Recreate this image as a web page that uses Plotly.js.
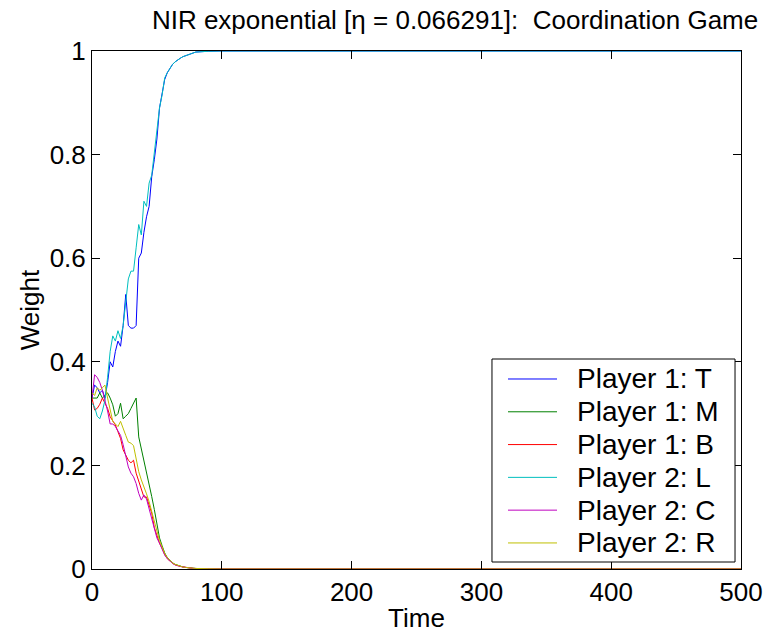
<!DOCTYPE html>
<html>
<head>
<meta charset="utf-8">
<script src="https://cdn.plot.ly/plotly-3.0.1.min.js"></script>
<style>html,body{margin:0;padding:0;background:#fff;}#chart{width:770px;height:637px;}</style>
</head>
<body>
<div id="chart"></div>
<script>
var time = [0,2,4,6,8,10,12,14,16,18,20,22,24,26,28,30,32,34,36,38,40,42,44,46,48,50,52,54,56,58,60,62,64,66,68,70,72,74,76,78,80,90,100,200,300,400,500];

var p1T = [0.33,0.355,0.35,0.34,0.345,0.33,0.36,0.40,0.39,0.42,0.44,0.43,0.47,0.53,0.47,0.465,0.465,0.47,0.60,0.61,0.65,0.68,0.70,0.757,0.79,0.83,0.89,0.915,0.945,0.958,0.967,0.974,0.979,0.983,0.986,0.989,0.991,0.993,0.995,0.997,0.998,0.9995,1,1,1,1,1];
var p1M = [0.33,0.33,0.33,0.34,0.33,0.335,0.34,0.33,0.317,0.295,0.30,0.32,0.29,0.295,0.30,0.31,0.32,0.33,0.255,0.233,0.21,0.185,0.165,0.14,0.115,0.089,0.06,0.045,0.031,0.022,0.016,0.012,0.009,0.007,0.005,0.004,0.003,0.0025,0.002,0.0015,0.001,0.0005,0,0,0,0,0];
var p1B = [0.33,0.307,0.31,0.318,0.33,0.32,0.31,0.294,0.285,0.278,0.265,0.252,0.23,0.22,0.21,0.205,0.21,0.185,0.168,0.152,0.139,0.139,0.125,0.108,0.08,0.065,0.05,0.04,0.028,0.02,0.015,0.011,0.008,0.006,0.005,0.004,0.003,0.0022,0.0016,0.0012,0.001,0.0005,0,0,0,0,0];
var p2L = [0.32,0.313,0.295,0.29,0.305,0.326,0.37,0.42,0.45,0.44,0.46,0.445,0.47,0.52,0.56,0.575,0.575,0.62,0.665,0.645,0.71,0.70,0.745,0.76,0.80,0.847,0.89,0.915,0.948,0.958,0.967,0.974,0.979,0.983,0.986,0.989,0.991,0.993,0.995,0.997,0.998,0.9995,1,1,1,1,1];
var p2C = [0.33,0.375,0.37,0.36,0.345,0.326,0.305,0.28,0.28,0.275,0.265,0.258,0.24,0.218,0.197,0.185,0.178,0.165,0.146,0.133,0.143,0.135,0.115,0.095,0.075,0.06,0.05,0.038,0.027,0.02,0.015,0.011,0.008,0.006,0.005,0.004,0.003,0.0022,0.0016,0.0012,0.001,0.0005,0,0,0,0,0];
var p2R = [0.34,0.335,0.35,0.345,0.35,0.355,0.33,0.305,0.285,0.28,0.275,0.285,0.27,0.258,0.245,0.243,0.238,0.215,0.188,0.172,0.16,0.145,0.13,0.11,0.09,0.07,0.055,0.043,0.03,0.022,0.016,0.012,0.009,0.007,0.005,0.004,0.003,0.0025,0.002,0.0015,0.001,0.0005,0,0,0,0,0];

var seriesNames = ["Player 1: T","Player 1: M","Player 1: B","Player 2: L","Player 2: C","Player 2: R"];
var seriesData = [p1T,p1M,p1B,p2L,p2C,p2R];
var seriesColors = ["#0000ff","#008000","#ff0000","#00bfbf","#bf00bf","#bfbf00"];

var xTicks = [0,100,200,300,400,500];
var yTicks = [0,0.2,0.4,0.6,0.8,1];
var yTickText = ["0","0.2","0.4","0.6","0.8","1"];

var traces = seriesData.map(function(d,i){
  return {x: time, y: d, type:'scatter', mode:'lines', name: seriesNames[i],
          line:{color: seriesColors[i], width:1}};
});

var fontFam = 'Liberation Sans, Arial, sans-serif';
var axisCommon = {
  showgrid:false, zeroline:false, showline:true, linecolor:'#000', linewidth:1,
  mirror:'ticks', ticks:'inside', ticklen:8, tickcolor:'#000', tickwidth:1,
  tickfont:{family:fontFam, size:26, color:'#000'}
};

// MATLAB-style legend box (drawn in paper coordinates)
var LEG = {x0:0.6163, x1:0.9908, y0:0.0135, y1:0.4054, lineX0:0.641, lineX1:0.7165, textX:0.7442, rowTop:0.3668, rowStep:0.0633};
var shapes = [{type:'rect', xref:'paper', yref:'paper', x0:LEG.x0, x1:LEG.x1, y0:LEG.y0, y1:LEG.y1,
               line:{color:'#000', width:1}, fillcolor:'#fff', layer:'above'}];
var annotations = [];
seriesNames.forEach(function(nm,i){
  var yy = LEG.rowTop - i*LEG.rowStep;
  shapes.push({type:'line', xref:'paper', yref:'paper', x0:LEG.lineX0, x1:LEG.lineX1, y0:yy, y1:yy,
               line:{color:seriesColors[i], width:1}, layer:'above'});
  annotations.push({xref:'paper', yref:'paper', x:LEG.textX, y:yy, xanchor:'left', yanchor:'middle',
               text:nm, showarrow:false, font:{family:fontFam, size:28, color:'#000'}});
});

var layout = {
  width:770, height:637,
  margin:{l:92, r:29, t:51, b:68},
  paper_bgcolor:'#fff', plot_bgcolor:'#fff',
  font:{family:fontFam, size:26, color:'#000'},
  title:{text:'NIR exponential [η = 0.066291]:  Coordination Game', font:{family:fontFam, size:26, color:'#000'},
         x:0.591, xanchor:'center', y:0.968, yanchor:'middle'},
  xaxis: Object.assign({}, axisCommon, {range:[0,500], tickvals:xTicks, ticktext:xTicks.map(String),
         title:{text:'Time', font:{family:fontFam, size:26, color:'#000'}, standoff:2}}),
  yaxis: Object.assign({}, axisCommon, {range:[0,1], tickvals:yTicks, ticktext:yTickText,
         title:{text:'Weight', font:{family:fontFam, size:26, color:'#000'}, standoff:2}}),
  showlegend:false,
  shapes:shapes,
  annotations:annotations
};

Plotly.newPlot('chart', traces, layout, {displayModeBar:false, staticPlot:true});
</script>
</body>
</html>
